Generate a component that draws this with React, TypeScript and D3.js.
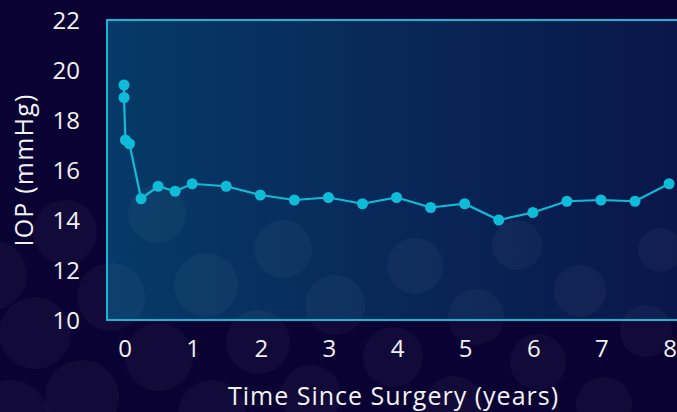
import React from 'react'
import * as d3 from 'd3'

// years since surgery / IOP in mmHg
const years = [0, 0, 0.02, 0.08, 0.25, 0.5, 0.75, 1, 1.5, 2, 2.5, 3, 3.5, 4, 4.5, 5, 5.5, 6, 6.5, 7, 7.5, 8]
const iop = [19.4, 18.9, 17.2, 17.05, 14.85, 15.35, 15.15, 15.45, 15.35, 15.0, 14.8, 14.9, 14.65, 14.9, 14.5, 14.65, 14.0, 14.3, 14.75, 14.8, 14.75, 15.45]
const xTicks = [0, 1, 2, 3, 4, 5, 6, 7, 8]
const yTicks = [10, 12, 14, 16, 18, 20, 22]

// decorative background bubbles [cx, cy, r]
const bubbles: [number, number, number][] = [
  [35, 333, 36], [82, 397, 37], [111, 297, 34], [159, 357, 34], [206, 285, 32],
  [258, 342, 32], [212, 414, 34], [-8, 275, 35], [283, 249, 29], [335, 305, 30],
  [311, 395, 30], [10, 420, 40], [65, 232, 32], [157, 214, 29], [415, 266, 28],
  [476, 317, 28], [517, 245, 25], [580, 291, 26], [646, 331, 26], [660, 250, 22],
  [393, 357, 30], [454, 405, 29], [538, 362, 28], [604, 405, 28],
]

const W = 677
const H = 412
const margin = { top: 20, right: -3, bottom: 92, left: 107 }
const font = '"Open Sans", Lato, sans-serif'

export default function App() {
  const innerW = W - margin.left - margin.right
  const innerH = H - margin.top - margin.bottom

  const x = d3.scaleLinear().domain([-0.25, 8.16]).range([0, innerW])
  const y = d3.scaleLinear().domain([10, 22]).range([innerH, 0])

  const pts = years.map((t, i) => [t, iop[i]] as [number, number])
  const line = d3.line<[number, number]>()
    .x(d => x(d[0]))
    .y(d => y(d[1]))

  return (
    <svg width={W} height={H} style={{ position: 'absolute', left: 0, top: 0, display: 'block' }}>
      <defs>
        <linearGradient id="plotFill" x1="0" x2="1" y1="0" y2="0">
          <stop offset="0%" stopColor="#063a68" />
          <stop offset="100%" stopColor="#0a1649" />
        </linearGradient>
      </defs>
      <rect width={W} height={H} fill="#0a0232" />
      <g transform={`translate(${margin.left},${margin.top})`}>
        <rect width={innerW} height={innerH} fill="url(#plotFill)" />
      </g>
      {bubbles.map((b, i) => (
        <circle key={i} cx={b[0]} cy={b[1]} r={b[2]} fill="#ffffff" fillOpacity={0.035} />
      ))}
      <g transform={`translate(${margin.left},${margin.top})`}>
        <rect width={innerW} height={innerH} fill="none" stroke="#18b6d4" strokeWidth={2} />
        <path d={line(pts) || ''} fill="none" stroke="#0fbcd8" strokeWidth={2.2} />
        {pts.map((d, i) => (
          <circle key={i} cx={x(d[0])} cy={y(d[1])} r={5.5} fill="#0fbcd8" />
        ))}
        {yTicks.map(t => (
          <text key={t} x={-27} y={y(t)} dy="0.36em" textAnchor="end" fill="#f2f2f2"
            fontFamily={font} fontSize={24}>{t}</text>
        ))}
        {xTicks.map(t => (
          <text key={t} x={x(t) + 1} y={innerH + 37} textAnchor="middle" fill="#f2f2f2"
            fontFamily={font} fontSize={24}>{t}</text>
        ))}
        <text x={innerW / 2} y={innerH + 85} textAnchor="middle" fill="#f2f2f2"
          fontFamily={font} fontSize={25} letterSpacing={1}>Time Since Surgery (years)</text>
        <text transform={`translate(${33 - margin.left},${innerH / 2}) rotate(-90)`}
          textAnchor="middle" fill="#f2f2f2" fontFamily={font} fontSize={25}
          letterSpacing={1.2}>IOP (mmHg)</text>
      </g>
    </svg>
  )
}
